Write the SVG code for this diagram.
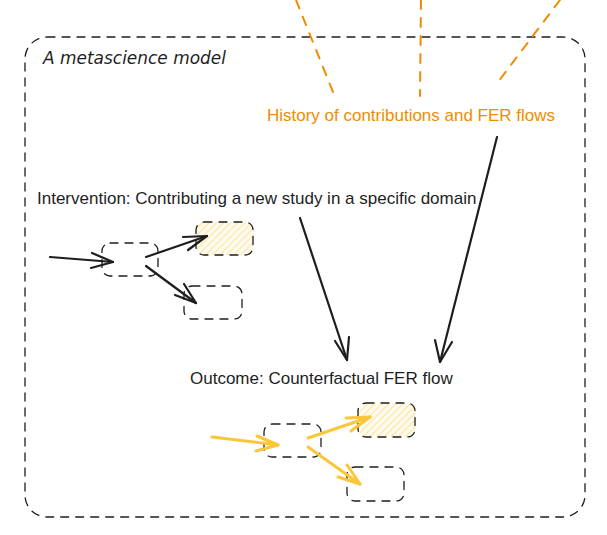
<svg xmlns="http://www.w3.org/2000/svg" width="607" height="535" viewBox="0 0 607 535">
<defs>
<style>
.dash{fill:none;stroke:#1e1e1e;stroke-width:1.3;stroke-dasharray:8 7;stroke-linecap:round}
.orange{fill:none;stroke:#f08c00;stroke-width:2;stroke-dasharray:9 9;stroke-linecap:round}
.ka{fill:none;stroke:#1e1e1e;stroke-width:2.2;stroke-linecap:round;stroke-linejoin:round}
.ya{fill:none;stroke:#fcc63a;stroke-width:3;stroke-linecap:round;stroke-linejoin:round}
.t{font-family:"Liberation Sans",Arial,sans-serif;font-size:17px;fill:#1e1e1e}
.to{font-family:"Liberation Sans",Arial,sans-serif;font-size:17px;fill:#f08c00}
.hand{font-family:"DejaVu Sans",sans-serif;font-style:italic;font-size:17px;fill:#1e1e1e}
</style>
<pattern id="hatch" width="5" height="5" patternUnits="userSpaceOnUse" patternTransform="rotate(45)">
<rect width="5" height="5" fill="#fffaf0"/>
<line x1="0" y1="0" x2="0" y2="5" stroke="#ffd96b" stroke-width="1.4"/>
</pattern>
</defs>
<rect width="607" height="535" fill="#ffffff"/>

<g id="frame">
<rect class="dash" x="25" y="37" width="560" height="480" rx="22"/>
<text class="hand" x="43" y="64" textLength="183" lengthAdjust="spacingAndGlyphs">A metascience model</text>
</g>

<g id="history">
<text class="to" x="411" y="121" text-anchor="middle">History of contributions and FER flows</text>
</g>
<g id="intervention">
<text class="t" x="37" y="204">Intervention: Contributing a new study in a specific domain</text>
</g>
<g id="outcome">
<text class="t" x="190" y="384">Outcome: Counterfactual FER flow</text>
</g>

<g id="cluster1">
<rect class="dash" x="102" y="243" width="56" height="33" rx="8"/>
<rect x="196" y="222" width="57" height="33" rx="8" fill="url(#hatch)"/>
<rect class="dash" x="196" y="222" width="57" height="33" rx="8"/>
<rect class="dash" x="184" y="286" width="58" height="33" rx="8"/>
</g>
<g id="cluster2">
<rect class="dash" x="264" y="424" width="57" height="33" rx="8"/>
<rect x="358" y="403" width="57" height="34" rx="8" fill="url(#hatch)"/>
<rect class="dash" x="358" y="403" width="57" height="34" rx="8"/>
<rect class="dash" x="347" y="467" width="57" height="34" rx="8"/>
</g>

<g id="connectors">
<path class="orange" d="M296 0 L333 92"/>
<path class="orange" d="M421 0 L420 96"/>
<path class="orange" d="M560 0 L495 86"/>

<path class="ka" d="M300 218 L347 360"/>
<path class="ka" d="M335 341 L347 360 L349 337"/>
<path class="ka" d="M497 137 L440 362"/>
<path class="ka" d="M435 340 L440 362 L452 342"/>

<path class="ka" d="M50 257 L113 262"/>
<path class="ka" d="M92 253 L113 262 L91 268"/>
<path class="ka" d="M146 257 L207 236"/>
<path class="ka" d="M183 237 L207 236 L188 250"/>
<path class="ka" d="M146 266 L196 303"/>
<path class="ka" d="M184 284 L196 303 L175 295"/>

<path class="ya" d="M212 437 L278 445"/>
<path class="ya" d="M257 436 L278 445 L256 451"/>
<path class="ya" d="M308 438 L370 417"/>
<path class="ya" d="M346 418 L370 417 L351 431"/>
<path class="ya" d="M308 447 L360 484"/>
<path class="ya" d="M347 465 L360 484 L338 477"/>
</g>
</svg>
